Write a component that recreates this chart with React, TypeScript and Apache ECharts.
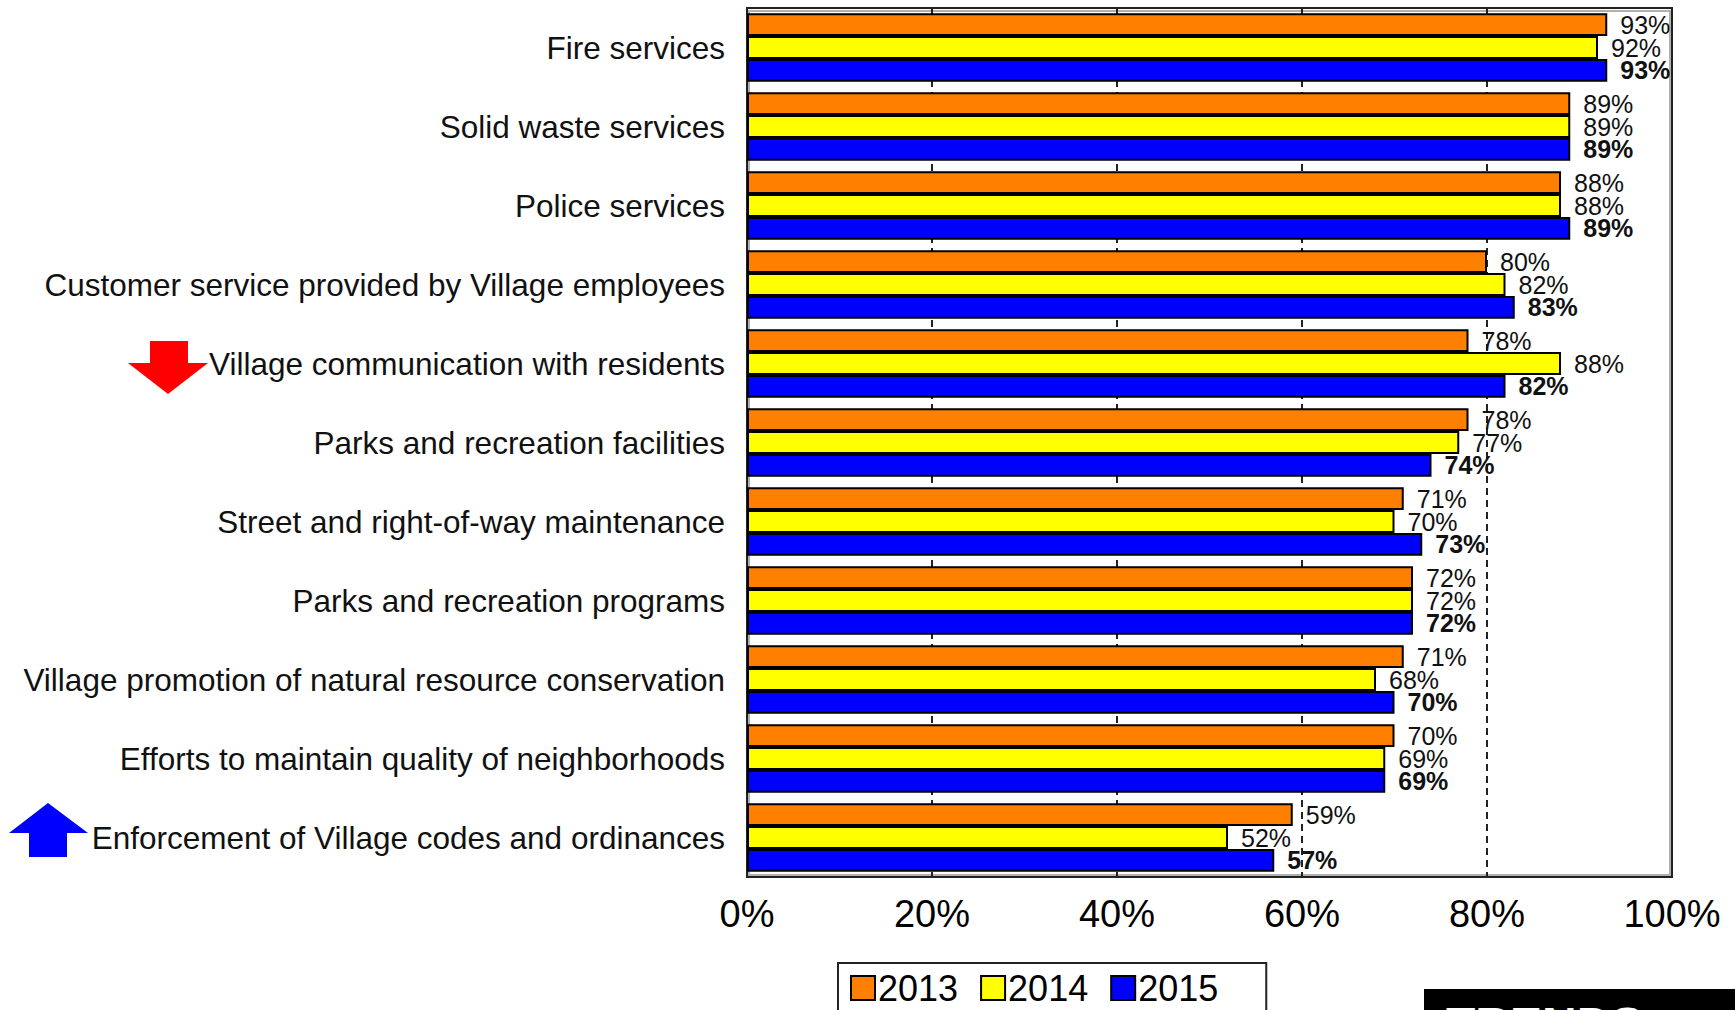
import React, { useEffect, useRef } from "react";
import * as echarts from "echarts";

const categories = [
  "Fire services",
  "Solid waste services",
  "Police services",
  "Customer service provided by Village employees",
  "Village communication with residents",
  "Parks and recreation facilities",
  "Street and right-of-way maintenance",
  "Parks and recreation programs",
  "Village promotion of natural resource conservation",
  "Efforts to maintain quality of neighborhoods",
  "Enforcement of Village codes and ordinances",
];

const years = ["2013", "2014", "2015"];
const values2013 = [93, 89, 88, 80, 78, 78, 71, 72, 71, 70, 59];
const values2014 = [92, 89, 88, 82, 88, 77, 70, 72, 68, 69, 52];
const values2015 = [93, 89, 89, 83, 82, 74, 73, 72, 70, 69, 57];
const yearColors = ["#FF8000", "#FFFF00", "#0000FF"];

const FONT = "'Liberation Sans', Arial, sans-serif";

export default function App() {
  const ref = useRef<HTMLDivElement>(null);

  useEffect(() => {
    if (!ref.current) return;
    const chart = echarts.init(ref.current, undefined, { renderer: "svg" });
    const seriesData = [values2013, values2014, values2015];

    const option = {
      animation: false,
      backgroundColor: "#ffffff",
      textStyle: { fontFamily: FONT },
      grid: {
        left: 747,
        right: 63,
        top: 8,
        bottom: 133,
        show: true,
        borderColor: "#222",
        borderWidth: 2,
        backgroundColor: "transparent",
      },
      xAxis: {
        type: "value",
        min: 0,
        max: 100,
        interval: 20,
        axisLine: { show: false },
        axisTick: { show: false },
        axisLabel: {
          formatter: "{value}%",
          fontSize: 38,
          color: "#000",
          margin: 18,
          fontFamily: FONT,
        },
        splitLine: {
          show: true,
          lineStyle: { type: [7, 5], color: "#222", width: 2 },
        },
      },
      yAxis: {
        type: "category",
        inverse: true,
        data: categories,
        axisLine: { show: false },
        axisTick: { show: false },
        axisLabel: {
          fontSize: 31.5,
          color: "#111",
          margin: 22,
          fontFamily: FONT,
        },
        splitLine: { show: false },
      },
      legend: {
        data: years,
        left: 838,
        top: 963,
        orient: "horizontal",
        icon: "rect",
        itemWidth: 24,
        itemHeight: 24,
        itemGap: 22,
        padding: [7, 48, 20, 12],
        borderColor: "#222",
        borderWidth: 2,
        backgroundColor: "#fff",
        textStyle: { fontSize: 36, color: "#000", fontFamily: FONT, padding: [0, 0, 0, -2] },
      },
      graphic: [
        {
          type: "rect",
          z: -1,
          shape: { x: 749, y: 11, width: 921, height: 864 },
          style: { fill: "none", stroke: "#b0b0b0", lineWidth: 2 },
        },
        {
          type: "polygon",
          shape: {
            points: [
              [150, 341],
              [188, 341],
              [188, 363],
              [208, 363],
              [168, 394],
              [128, 363],
              [150, 363],
            ],
          },
          style: { fill: "#FF0000" },
        },
        {
          type: "polygon",
          shape: {
            points: [
              [48, 803],
              [88, 833],
              [67, 833],
              [67, 857],
              [29, 857],
              [29, 833],
              [9, 833],
            ],
          },
          style: { fill: "#0000FF" },
        },
        {
          type: "rect",
          shape: { x: 1424, y: 989, width: 320, height: 40 },
          style: { fill: "#000" },
        },
        {
          type: "text",
          x: 1446,
          y: 1000,
          style: {
            text: "TRENDS",
            fill: "#fff",
            font: "bold 48px 'Liberation Sans', Arial, sans-serif",
            textVerticalAlign: "top",
          },
        },
      ],
      series: years.map((y, i) => ({
        name: y,
        type: "bar",
        data: seriesData[i],
        barGap: "0%",
        barCategoryGap: "13%",
        itemStyle: { color: yearColors[i], borderColor: "#000", borderWidth: 2 },
        label: {
          show: true,
          position: "right",
          distance: 13,
          formatter: "{c}%",
          fontSize: 25,
          color: "#111",
          fontFamily: FONT,
          fontWeight: i === 2 ? "bold" : "normal",
        },
      })),
    };

    chart.setOption(option as any);
    return () => chart.dispose();
  }, []);

  return (
    <div
      ref={ref}
      style={{ position: "absolute", left: 0, top: 0, width: 1735, height: 1010 }}
    />
  );
}
